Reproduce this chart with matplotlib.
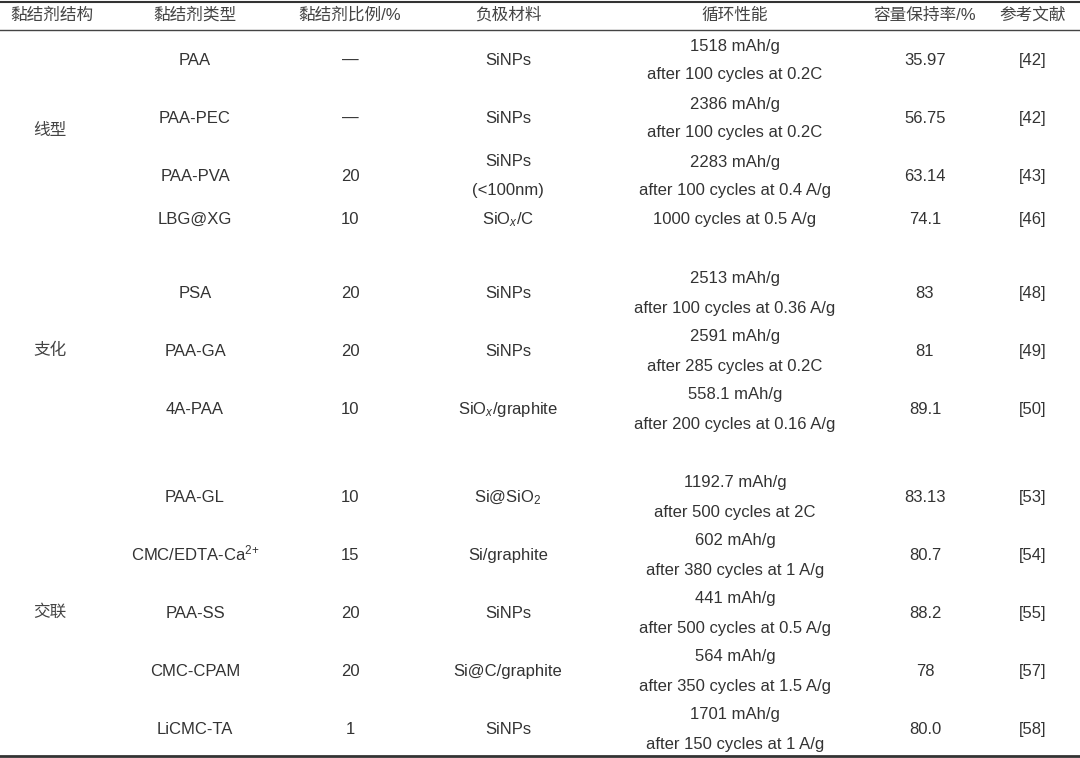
import matplotlib.pyplot as plt

plt.rcParams['font.family'] = ['Liberation Sans', 'Noto Sans CJK SC', 'DejaVu Sans']
plt.rcParams['mathtext.fontset'] = 'custom'
plt.rcParams['mathtext.rm'] = 'Liberation Sans'
plt.rcParams['mathtext.it'] = 'Liberation Sans:italic'

headers = ['黏结剂结构', '黏结剂类型', '黏结剂比例/%', '负极材料', '循环性能', '容量保持率/%', '参考文献']

groups = ['线型', '支化', '交联']

binder = ['PAA', 'PAA-PEC', 'PAA-PVA', 'LBG@XG', 'PSA', 'PAA-GA', '4A-PAA',
          'PAA-GL', 'CMC/EDTA-Ca$^{2\\text{+}}$', 'PAA-SS', 'CMC-CPAM', 'LiCMC-TA']
ratio = ['—', '—', '20', '10', '20', '20', '10', '10', '15', '20', '20', '1']
anode = ['SiNPs', 'SiNPs', 'SiNPs\n(<100nm)', 'SiO$_{x}$/C', 'SiNPs', 'SiNPs',
         'SiO$_{x}$/graphite', 'Si@SiO$_2$', 'Si/graphite', 'SiNPs',
         'Si@C/graphite', 'SiNPs']
cycling = ['1518 mAh/g\nafter 100 cycles at 0.2C',
           '2386 mAh/g\nafter 100 cycles at 0.2C',
           '2283 mAh/g\nafter 100 cycles at 0.4 A/g',
           '1000 cycles at 0.5 A/g',
           '2513 mAh/g\nafter 100 cycles at 0.36 A/g',
           '2591 mAh/g\nafter 285 cycles at 0.2C',
           '558.1 mAh/g\nafter 200 cycles at 0.16 A/g',
           '1192.7 mAh/g\nafter 500 cycles at 2C',
           '602 mAh/g\nafter 380 cycles at 1 A/g',
           '441 mAh/g\nafter 500 cycles at 0.5 A/g',
           '564 mAh/g\nafter 350 cycles at 1.5 A/g',
           '1701 mAh/g\nafter 150 cycles at 1 A/g']
retention = ['35.97', '56.75', '63.14', '74.1', '83', '81', '89.1',
             '83.13', '80.7', '88.2', '78', '80.0']
refs = ['[42]', '[42]', '[43]', '[46]', '[48]', '[49]', '[50]',
        '[53]', '[54]', '[55]', '[57]', '[58]']

# layout (pixels)
W, H = 1080, 758
col_x = [52, 195, 350, 508, 735, 925, 1033]
row_y = [59, 117, 175, 218, 292, 350, 408, 496, 554, 612, 670, 728]
group_y = [131, 350, 612]
line_gap = 29
base_off = 6  # baseline below the visual centre of cap-height text
text_color = '#333333'

fig = plt.figure(figsize=(W / 100, H / 100), dpi=100)
ax = fig.add_axes([0, 0, 1, 1])
ax.set_xlim(0, W)
ax.set_ylim(H, 0)
ax.axis('off')

ax.axhline(1.5, color='#333333', lw=1.5)
ax.axhline(29.5, color='#444444', lw=1.0)
ax.axhline(756, color='#333333', lw=2.0)

for x, h in zip(col_x, headers):
    ax.text(x, 15, h, ha='center', va='center', fontsize=12, color='#444444')

for g, y in zip(groups, group_y):
    ax.text(col_x[0] - 2, y, g, ha='center', va='center',
            fontsize=12, color='#444444')


def cell(x, y, s):
    parts = s.split('\n')
    if len(parts) == 1:
        ys = [y]
    else:
        ys = [y - line_gap / 2, y + line_gap / 2]
    for yy, p in zip(ys, parts):
        ax.text(x, yy + base_off, p, ha='center', va='baseline',
                fontsize=12, color=text_color)


for i, y in enumerate(row_y):
    cell(col_x[1], y, binder[i])
    cell(col_x[2], y, ratio[i])
    cell(col_x[3], y, anode[i])
    cell(col_x[4], y, cycling[i])
    cell(col_x[5], y, retention[i])
    cell(col_x[6], y, refs[i])

fig.savefig('out.png', dpi=100)
